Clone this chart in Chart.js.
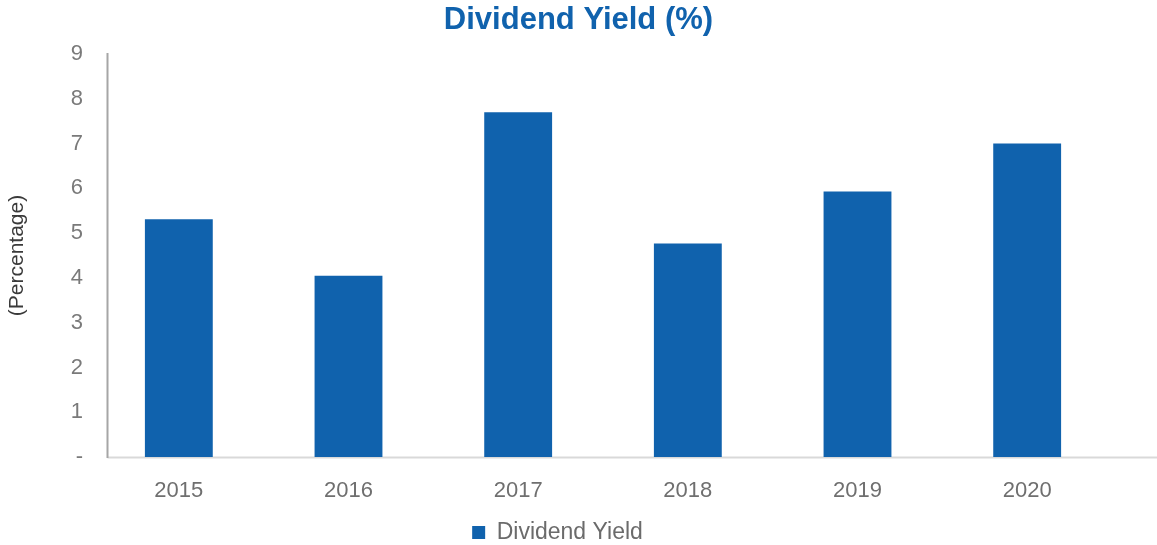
<!DOCTYPE html>
<html>
<head>
<meta charset="utf-8">
<script src="https://cdn.jsdelivr.net/npm/chart.js@4/dist/chart.umd.min.js"></script>
<style>
  html, body { margin: 0; padding: 0; background: #ffffff; }
  #wrap { width: 1157px; height: 545px; position: relative; }
</style>
</head>
<body>
<div id="wrap"><canvas id="chart" width="1157" height="545"></canvas></div>
<script>
// Annual dividend yield, in percent
const years = ['2015', '2016', '2017', '2018', '2019', '2020'];
const dividendYield = [5.31, 4.05, 7.70, 4.77, 5.93, 7.00];
const yMin = 0;
const yMax = 9;
const seriesName = 'Dividend Yield';
const chartTitle = 'Dividend Yield (%)';
const yAxisTitle = '(Percentage)';

const BLUE = '#1062ad';
const FONT = "'Liberation Sans', Arial, sans-serif";

// Axis lines: vertical value axis and light baseline under the bars
const axisLines = {
  id: 'axisLines',
  beforeDatasetsDraw(chart) {
    const { ctx, scales: { y }, chartArea } = chart;
    const base = y.getPixelForValue(0);
    const top = y.getPixelForValue(yMax);
    const axisX = chartArea.left + 13.5;
    ctx.save();
    ctx.strokeStyle = '#d9d9d9';
    ctx.lineWidth = 2;
    ctx.beginPath();
    ctx.moveTo(axisX, base + 0.5);
    ctx.lineTo(chart.width, base + 0.5);
    ctx.stroke();
    ctx.strokeStyle = '#a6a6a6';
    ctx.beginPath();
    ctx.moveTo(axisX, top - 1);
    ctx.lineTo(axisX, base + 1);
    ctx.stroke();
    ctx.restore();
  }
};

// Heading centred across the whole canvas
const heading = {
  id: 'heading',
  afterDraw(chart) {
    const { ctx } = chart;
    ctx.save();
    ctx.fillStyle = BLUE;
    ctx.font = "bold 31px " + FONT;
    ctx.textAlign = 'center';
    ctx.textBaseline = 'middle';
    ctx.fillText(chartTitle, chart.width / 2, 20);
    ctx.restore();
  }
};

new Chart(document.getElementById('chart'), {
  type: 'bar',
  data: {
    labels: years,
    datasets: [{
      label: seriesName,
      data: dividendYield,
      backgroundColor: BLUE,
      borderWidth: 0,
      barPercentage: 0.4,
      categoryPercentage: 1.0
    }]
  },
  plugins: [axisLines, heading],
  options: {
    responsive: false,
    animation: false,
    layout: { padding: { left: 3, right: 45, top: 54, bottom: -9 } },
    plugins: {
      title: { display: false },
      legend: {
        display: true,
        position: 'bottom',
        labels: {
          color: '#6b6b6b',
          font: { family: FONT, size: 23 },
          boxWidth: 13,
          boxHeight: 13,
          padding: 0
        }
      },
      tooltip: { enabled: false }
    },
    scales: {
      x: {
        grid: { display: false, drawTicks: false },
        border: { display: false },
        ticks: {
          color: '#6f6f6f',
          font: { family: FONT, size: 22 },
          padding: 21
        },
        afterFit(scale) { scale.height = 64; }
      },
      y: {
        min: yMin,
        max: yMax,
        grid: { display: false, drawTicks: false },
        border: { display: false },
        ticks: {
          stepSize: 1,
          color: '#7a7a7a',
          font: { family: FONT, size: 22 },
          padding: 11,
          callback: (v) => (v === 0 ? '-' : v)
        },
        title: {
          display: true,
          text: yAxisTitle,
          color: '#3a3a3a',
          font: { family: FONT, size: 21 },
          padding: { top: 2, bottom: 0 }
        },
        afterFit(scale) { scale.width = 91; }
      }
    }
  }
});
</script>
</body>
</html>
